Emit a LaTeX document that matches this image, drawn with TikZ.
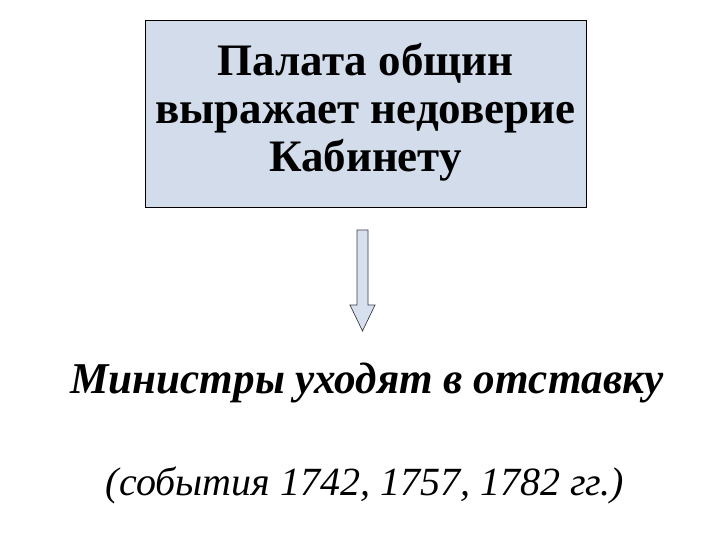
\documentclass[tikz,border=0pt]{standalone}
\usepackage{fontspec}
\setmainfont{Liberation Serif}
\definecolor{boxfill}{RGB}{211,220,234}
\definecolor{arrowfill}{RGB}{215,224,238}
\definecolor{arrowline}{RGB}{60,60,70}
\begin{document}
\begin{tikzpicture}[x=1pt,y=-1pt,
  mainbox/.style={draw=black,line width=0.8pt,fill=boxfill},
  boxtext/.style={font=\fontsize{45}{48}\selectfont\bfseries,align=center},
  result/.style={font=\fontsize{44}{48}\selectfont\bfseries\itshape},
  note/.style={font=\fontsize{40}{44}\selectfont\itshape}]
\useasboundingbox (0,0) rectangle (720,540);
\fill[white] (0,0) rectangle (720,540);
\draw[mainbox] (145,20) rectangle (586,207);
\node[boxtext] (box) at (365.5,112) {Палата общин\\выражает недоверие\\Кабинету};
\draw[arrowline,fill=arrowfill,line width=0.7pt] (357,230) -- (368,230) -- (368,305) -- (375,305) -- (362.5,331) -- (350,305) -- (357,305) -- cycle;
\node[result,anchor=base,xscale=0.98] (res) at (367,393) {Министры уходят в отставку};
\node[note,anchor=base] (note) at (365,495) {(события 1742, 1757, 1782 гг.)};
\end{tikzpicture}
\end{document}
